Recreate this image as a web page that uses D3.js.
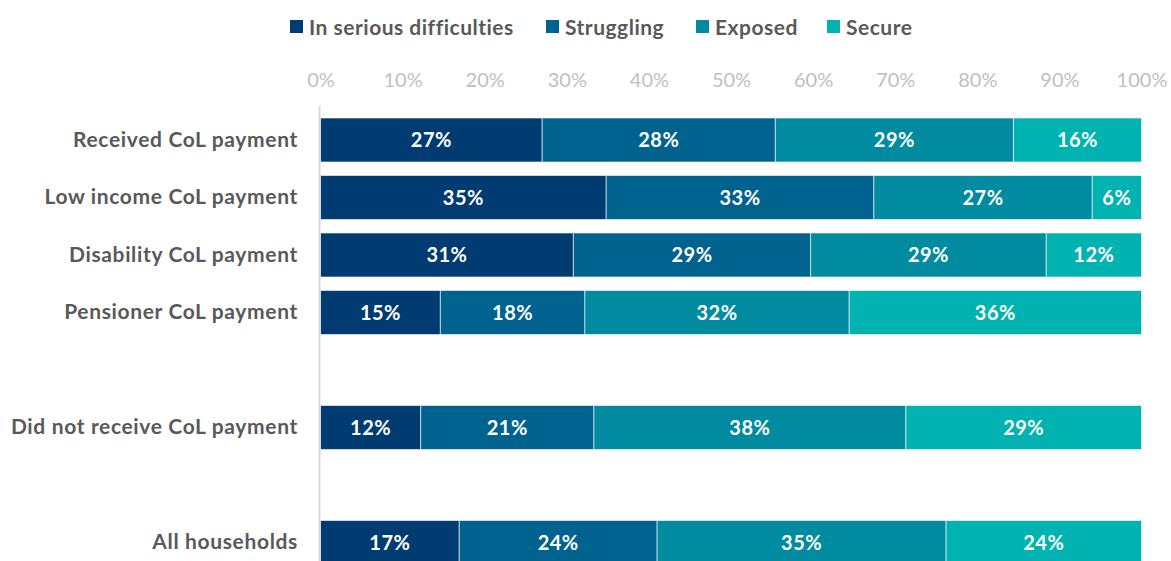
<!DOCTYPE html>
<html>
<head>
<meta charset="utf-8">
<script src="https://cdn.jsdelivr.net/npm/d3@7"></script>
<style>
  html, body { margin: 0; padding: 0; background: #ffffff; }
  svg { display: block; font-family: Lato, "Open Sans", sans-serif; }
</style>
</head>
<body>
<svg id="chart" width="1171" height="561"></svg>
<script>
// Household financial position by cost-of-living (CoL) payment receipt
const categories = [
  "Received CoL payment",
  "Low income CoL payment",
  "Disability CoL payment",
  "Pensioner CoL payment",
  "",
  "Did not receive CoL payment",
  "",
  "All households"
];
const seriesNames = ["In serious difficulties", "Struggling", "Exposed", "Secure"];

// Shares (%) for each row; empty rows are spacers
const seriousDifficulties = [27.0, 34.8, 30.8, 14.6, null, 12.2, null, 16.9];
const struggling          = [28.4, 32.6, 28.9, 17.6, null, 21.1, null, 24.1];
const exposed             = [29.0, 26.6, 28.7, 32.2, null, 38.0, null, 35.2];
const secure              = [15.6,  6.0, 11.6, 35.6, null, 28.7, null, 23.8];

const tickValues = [0, 10, 20, 30, 40, 50, 60, 70, 80, 90, 100];

const colors = ["#003B71", "#00628F", "#008BA0", "#00B3B0"];

const svg = d3.select("#chart");
const seriesValues = [seriousDifficulties, struggling, exposed, secure];

const rowKeys = categories.map((c, i) => "row" + i);
const rows = categories.map((c, i) => {
  const r = { key: rowKeys[i], label: c };
  seriesNames.forEach((s, j) => { r[s] = seriesValues[j][i]; });
  return r;
});
const dataRows = rows.filter(r => r[seriesNames[0]] != null);

const x = d3.scaleLinear().domain([0, 100]).range([320.5, 1141.5]);
const pad = 13.5 / 57.5;
const y = d3.scaleBand()
  .domain(rowKeys)
  .range([118 - 57.5 * pad / 2, 118 - 57.5 * pad / 2 + 57.5 * rowKeys.length])
  .paddingInner(pad)
  .paddingOuter(pad / 2);

const stacked = d3.stack().keys(seriesNames)(dataRows);

// Bars
const layers = svg.append("g").selectAll("g")
  .data(stacked)
  .join("g")
  .attr("fill", (d, i) => colors[i]);

layers.selectAll("rect")
  .data(d => d.map(p => ({ p, key: d.key })))
  .join("rect")
  .attr("x", d => x(d.p[0]))
  .attr("y", d => y(d.p.data.key))
  .attr("width", d => x(d.p[1]) - x(d.p[0]))
  .attr("height", y.bandwidth())
  .attr("stroke", "#ffffff")
  .attr("stroke-opacity", 0.6)
  .attr("stroke-width", 1);

// Value labels
layers.selectAll("text")
  .data(d => d.map(p => ({ p, key: d.key })))
  .join("text")
  .attr("x", d => (x(d.p[0]) + x(d.p[1])) / 2)
  .attr("y", d => y(d.p.data.key) + y.bandwidth() / 2)
  .attr("dy", "0.36em")
  .attr("text-anchor", "middle")
  .attr("fill", "#ffffff")
  .attr("font-weight", 700)
  .attr("font-size", 20)
  .attr("letter-spacing", 0.5)
  .text(d => Math.round(d.p[1] - d.p[0]) + "%");

// Vertical axis line
svg.append("line")
  .attr("x1", 319.5).attr("x2", 319.5)
  .attr("y1", 106).attr("y2", 561)
  .attr("stroke", "#d9d9d9")
  .attr("stroke-width", 2);

// Category labels
const yAxis = svg.append("g")
  .attr("transform", "translate(298,0)")
  .call(d3.axisLeft(y).tickSize(0).tickPadding(0)
    .tickFormat((k, i) => categories[i]));
yAxis.select(".domain").remove();
yAxis.selectAll("text")
  .attr("fill", "#595959")
  .attr("font-weight", 700)
  .attr("font-size", 21)
  .attr("letter-spacing", 0.65)
  .attr("font-family", "Lato, sans-serif");

// Percentage axis along the top
const xAxis = svg.append("g")
  .attr("transform", "translate(0,87)")
  .call(d3.axisTop(x).tickValues(tickValues).tickSize(0).tickPadding(0)
    .tickFormat(d => d + "%"));
xAxis.select(".domain").remove();
xAxis.selectAll("text")
  .attr("dy", 0)
  .attr("fill", "#bfbfbf")
  .attr("font-size", 20)
  .attr("font-family", "Lato, sans-serif");

// Legend
const legendX = [290, 546, 696, 827];
const legend = svg.append("g").selectAll("g")
  .data(seriesNames)
  .join("g")
  .attr("transform", (d, i) => `translate(${legendX[i]},0)`);
legend.append("rect")
  .attr("x", 0).attr("y", 20)
  .attr("width", 13).attr("height", 13)
  .attr("fill", (d, i) => colors[i]);
legend.append("text")
  .attr("x", 19).attr("y", 27)
  .attr("dy", "0.36em")
  .attr("fill", "#595959")
  .attr("font-weight", 700)
  .attr("font-size", 21)
  .attr("letter-spacing", 0.5)
  .text(d => d);
</script>
</body>
</html>
